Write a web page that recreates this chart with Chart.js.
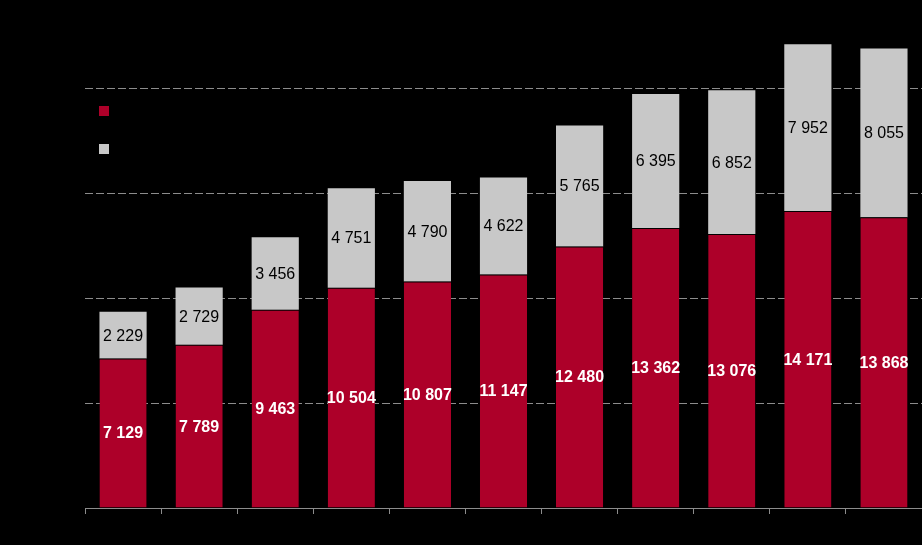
<!DOCTYPE html>
<html>
<head>
<meta charset="utf-8">
<script src="https://cdn.jsdelivr.net/npm/chart.js@4/dist/chart.umd.min.js"></script>
<style>
  html, body { margin: 0; padding: 0; background: #000; }
  #wrap { width: 922px; height: 545px; }
</style>
</head>
<body>
<div id="wrap"><canvas id="chart"></canvas></div>
<script>
'use strict';

// data
var categories = [ '1', '2', '3', '4', '5', '6', '7', '8', '9', '10', '11' ];
var series_names = [ 'Seria 1', 'Seria 2' ];
var values_red = [ 7129, 7789, 9463, 10504, 10807, 11147, 12480, 13362, 13076, 14171, 13868 ];
var values_gray = [ 2229, 2729, 3456, 4751, 4790, 4622, 5765, 6395, 6852, 7952, 8055 ];
var y_ticks = [ 0, 5000, 10000, 15000, 20000 ];

var RED = '#ad0029';
var GRAY = '#c8c8c8';

function fmt( v ) {
	return String( v ).replace( /\B(?=(\d{3})+(?!\d))/g, ' ' );
}

// values inside each bar segment
var segmentLabels = {
	id: 'segmentLabels',
	afterDatasetsDraw: function( chart ) {
		var ctx = chart.ctx;
		ctx.save();
		ctx.textAlign = 'center';
		ctx.textBaseline = 'middle';
		chart.data.datasets.forEach( function( ds, i ) {
			var meta = chart.getDatasetMeta( i );
			ctx.font = ( i === 0 ? 'bold ' : '' ) + '16px "Liberation Sans", Arial, sans-serif';
			ctx.fillStyle = i === 0 ? '#ffffff' : '#000000';
			meta.data.forEach( function( bar, j ) {
				var mid = ( bar.y + bar.base ) / 2;
				ctx.fillText( fmt( ds.data[ j ] ), bar.x, mid + 1 );
			} );
		} );
		ctx.restore();
	}
};

// legend squares (labels are black on black in the original)
var boxLegend = {
	id: 'boxLegend',
	afterDraw: function( chart ) {
		var ctx = chart.ctx;
		ctx.save();
		ctx.font = '14px "Liberation Sans", Arial, sans-serif';
		ctx.textBaseline = 'middle';
		chart.data.datasets.forEach( function( ds, i ) {
			var y = 106 + i * 38;
			ctx.fillStyle = ds.backgroundColor;
			ctx.fillRect( 99, y, 10, 10 );
			ctx.fillStyle = '#000000';
			ctx.fillText( ds.label, 116, y + 5 );
		} );
		ctx.restore();
	}
};

new Chart( document.getElementById( 'chart' ), {
	type: 'bar',
	data: {
		labels: categories,
		datasets: [ {
			label: series_names[ 0 ],
			data: values_red,
			backgroundColor: RED,
			borderColor: '#000000',
			borderWidth: { top: 1, left: 0, right: 0, bottom: 0 },
			borderSkipped: false,
			barPercentage: 0.62,
			categoryPercentage: 1
		}, {
			label: series_names[ 1 ],
			data: values_gray,
			backgroundColor: GRAY,
			borderWidth: 0,
			barPercentage: 0.62,
			categoryPercentage: 1
		} ]
	},
	options: {
		responsive: true,
		maintainAspectRatio: false,
		animation: false,
		layout: { padding: { left: 85, right: 0, top: 5, bottom: 31 } },
		plugins: {
			legend: { display: false },
			tooltip: { enabled: false }
		},
		scales: {
			x: {
				stacked: true,
				grid: {
					display: true,
					offset: true,
					drawOnChartArea: false,
					drawTicks: true,
					tickLength: 6,
					color: '#8c8c8c'
				},
				border: { display: true, color: '#8c8c8c', width: 1 },
				ticks: { display: false }
			},
			y: {
				stacked: true,
				min: 0,
				max: 24000,
				afterBuildTicks: function( axis ) {
					axis.ticks = y_ticks.map( function( v ) { return { value: v }; } );
				},
				grid: {
					drawTicks: false,
					color: function( c ) { return c.tick && c.tick.value === 0 ? 'rgba(0,0,0,0)' : '#8c8c8c'; }
				},
				border: { display: false, dash: [ 8, 3 ] },
				ticks: { display: false }
			}
		}
	},
	plugins: [ segmentLabels, boxLegend ]
} );
</script>
</body>
</html>
